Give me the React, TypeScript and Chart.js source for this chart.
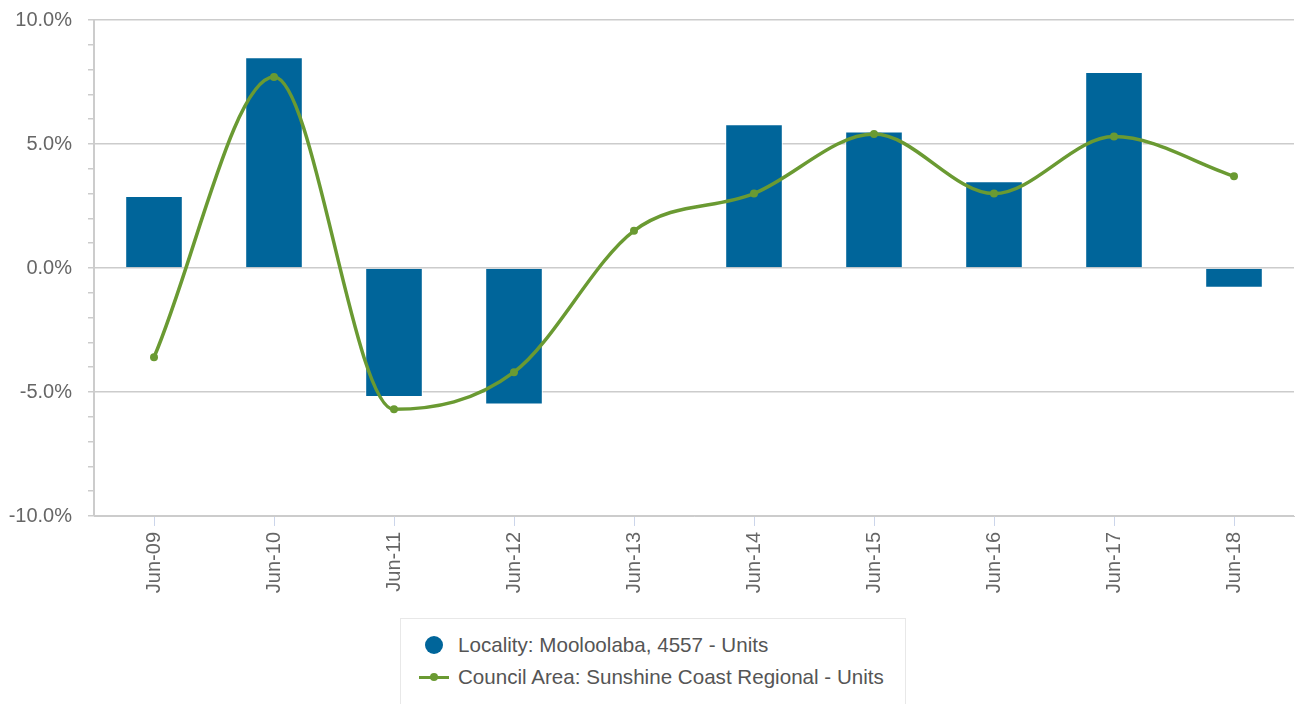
import React, { useEffect, useRef } from "react";
import { Chart, registerables } from "chart.js";

Chart.register(...registerables);

const categories = ["Jun-09", "Jun-10", "Jun-11", "Jun-12", "Jun-13", "Jun-14", "Jun-15", "Jun-16", "Jun-17", "Jun-18"];
const localityValues: (number | null)[] = [2.9, 8.5, -5.2, -5.5, null, 5.8, 5.5, 3.5, 7.9, -0.8];
const councilValues = [-3.6, 7.7, -5.7, -4.2, 1.5, 3.0, 5.4, 3.0, 5.3, 3.7];
const localityLabel = "Locality: Mooloolaba, 4557 - Units";
const councilLabel = "Council Area: Sunshine Coast Regional - Units";

const BLUE = "#00659a";
const GREEN = "#6a9a32";
const FONT = "'Liberation Sans', Arial, sans-serif";

export default function App() {
  const ref = useRef<HTMLCanvasElement>(null);

  useEffect(() => {
    if (!ref.current) return;
    const chart = new Chart(ref.current, {
      type: "bar",
      data: {
        labels: categories,
        datasets: [
          {
            type: "line",
            label: councilLabel,
            data: councilValues,
            borderColor: GREEN,
            backgroundColor: GREEN,
            borderWidth: 3.5,
            pointRadius: 4,
            pointBackgroundColor: GREEN,
            pointBorderWidth: 0,
            cubicInterpolationMode: "monotone",
            order: 0,
          } as any,
          {
            type: "bar",
            label: localityLabel,
            data: localityValues,
            backgroundColor: BLUE,
            borderColor: "#ffffff",
            borderWidth: 1,
            barPercentage: 0.48,
            categoryPercentage: 1,
            order: 1,
          },
        ],
      },
      options: {
        responsive: false,
        animation: false,
        layout: { padding: { top: 10, right: 1, left: 0, bottom: 0 } },
        plugins: { legend: { display: false }, tooltip: { enabled: false } },
        scales: {
          x: {
            offset: true,
            grid: {
              offset: false,
              drawOnChartArea: false,
              tickColor: "#ccd6eb",
              tickLength: 10,
            },
            border: { display: true, color: "#cccccc" },
            ticks: {
              minRotation: 90,
              maxRotation: 90,
              padding: 6,
              color: "#666666",
              font: { family: FONT, size: 20 },
            },
            afterFit: (s: any) => {
              s.height = 94;
            },
          },
          y: {
            min: -10,
            max: 10,
            ticks: {
              stepSize: 1,
              autoSkip: false,
              padding: 16,
              color: "#666666",
              font: { family: FONT, size: 20 },
              callback: (v: any) => (Math.round(v) % 5 === 0 ? Number(v).toFixed(1) + "%" : ""),
            },
            grid: {
              color: (ctx: any) => (ctx.tick && Math.round(ctx.tick.value) % 5 === 0 ? "#cccccc" : "rgba(0,0,0,0)"),
              tickColor: "#cccccc",
              tickLength: 6,
              lineWidth: 1.5,
            },
            border: { display: true, color: "#cccccc", width: 2 },
            afterFit: (s: any) => {
              s.width = 94;
            },
          },
        },
      },
    });
    return () => chart.destroy();
  }, []);

  return (
    <div style={{ position: "absolute", left: 0, top: 0, width: 1298, height: 704, background: "#fff", fontFamily: FONT, overflow: "hidden" }}>
      <canvas ref={ref} width={1298} height={618} style={{ display: "block", position: "absolute", left: 0, top: -8 }} />
      <div
        style={{
          position: "absolute",
          left: 400,
          top: 618,
          width: 506,
          height: 100,
          border: "1px solid #e8e8e8",
          boxSizing: "border-box",
        }}
      >
        <div style={{ position: "absolute", left: 24, top: 17, width: 18, height: 18, borderRadius: 9, background: BLUE }} />
        <div style={{ position: "absolute", left: 57, top: 13, fontSize: 20.6, color: "#555", whiteSpace: "nowrap", lineHeight: "26px" }}>{localityLabel}</div>
        <div style={{ position: "absolute", left: 18, top: 57, width: 30, height: 3, background: GREEN }} />
        <div style={{ position: "absolute", left: 29, top: 54, width: 8, height: 8, borderRadius: 4, background: GREEN }} />
        <div style={{ position: "absolute", left: 57, top: 45, fontSize: 20.6, color: "#555", whiteSpace: "nowrap", lineHeight: "26px" }}>{councilLabel}</div>
      </div>
    </div>
  );
}
